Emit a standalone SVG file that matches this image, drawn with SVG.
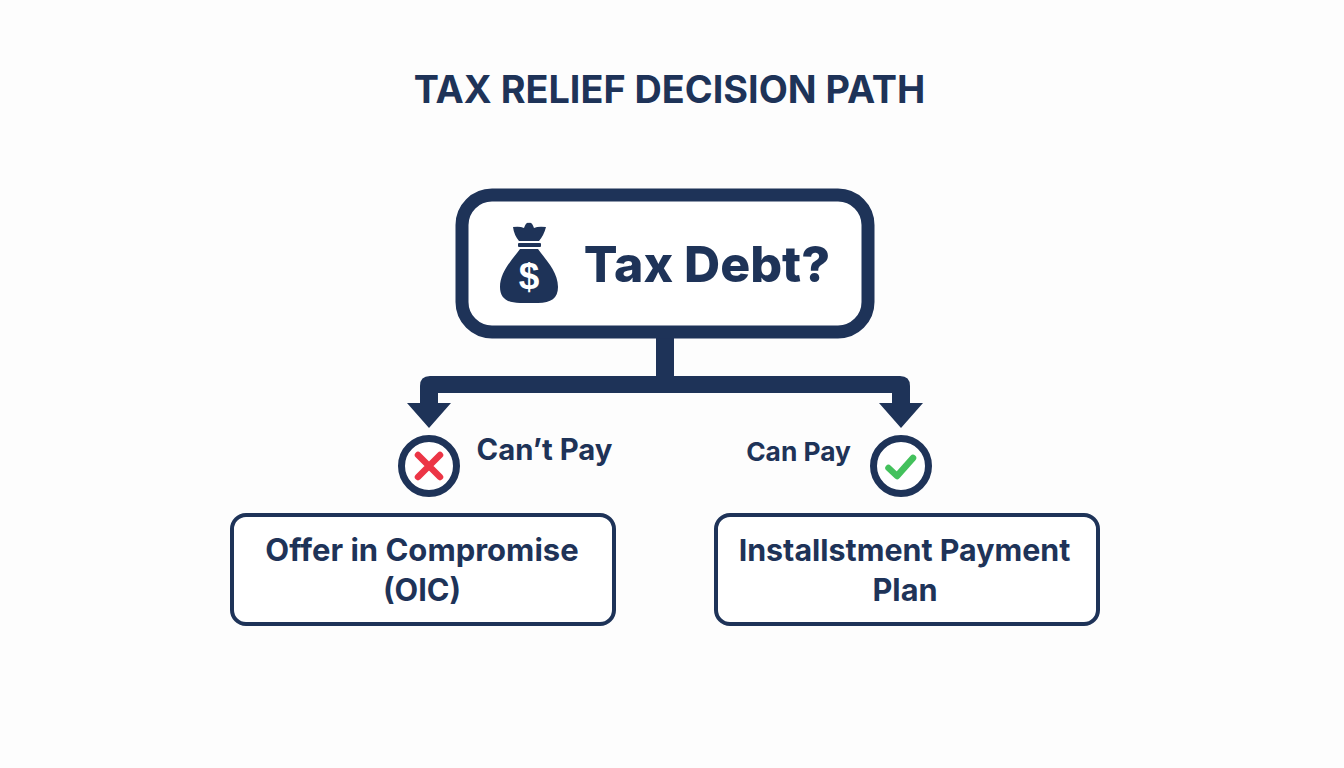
<svg xmlns="http://www.w3.org/2000/svg" width="1344" height="768" viewBox="0 0 1344 768">
<style>
text{font-family:Inter,"Liberation Sans",sans-serif;font-weight:700;text-anchor:middle}
.t{fill:#1e3358}
.box{fill:#fff;stroke:#1e3358;stroke-width:4}
.ring{fill:#fff;stroke:#1e3358;stroke-width:7}
.opt{font-size:30.7px}
</style>
<rect width="1344" height="768" fill="#fdfdfd"/>
<text id="title" class="t" x="669.500" y="103" font-size="37.800">TAX RELIEF DECISION PATH</text>
<g id="connectors" fill="#1e3358">
<path d="M656 334H674V376H900Q910 376 910 386V403H923L901 428L879 403H892V393H438V403H451L429 428L407 403H420V386Q420 376 430 376H656Z"/>
</g>
<g id="node-debt">
<rect x="462" y="195" width="406" height="137" rx="30" fill="#fff" stroke="#1e3358" stroke-width="13"/>
<g fill="#1e3358">
<path d="M513 227Q520 226 524 228Q526 222 529 223Q532 222 534 228Q538 226 546 227Q544 235 539 241H519Q514 235 513 227Z"/>
<rect x="518" y="243" width="23" height="4" rx="1"/>
<path d="M520 249H538C546 260 558 272 558 287C558 298 551 303 538 303H520C507 303 500 298 500 287C500 272 512 260 520 249Z"/>
</g>
<text x="529" y="289" font-size="37" fill="#fff" style="font-family:'Liberation Sans',sans-serif">$</text>
<text class="t" x="707" y="282" font-size="50" style="font-weight:800">Tax Debt?</text>
</g>
<g id="node-cant">
<circle class="ring" cx="429" cy="466" r="27.500"/>
<path d="M418 455L440 477M440 455L418 477" stroke="#ec3546" stroke-width="6.500" stroke-linecap="round" fill="none"/>
<text class="t" x="544.500" y="460" font-size="29.300">Can’t Pay</text>
</g>
<g id="node-can">
<circle class="ring" cx="901" cy="466" r="27.500"/>
<path d="M888.500 468L897 476L913 458" stroke="#43c15c" stroke-width="6.500" stroke-linecap="round" stroke-linejoin="round" fill="none"/>
<text class="t" x="798.500" y="461" font-size="26.300">Can Pay</text>
</g>
<g id="node-oic">
<rect class="box" x="232" y="515" width="382" height="109" rx="14"/>
<text class="t" x="422" y="561" font-size="31">Offer in Compromise</text>
<text class="t opt" x="422" y="601">(OIC)</text>
</g>
<g id="node-plan">
<rect class="box" x="716" y="515" width="382" height="109" rx="14"/>
<text class="t" x="904.500" y="561" font-size="30.400">Installstment Payment</text>
<text class="t opt" x="905" y="601">Plan</text>
</g>
</svg>
